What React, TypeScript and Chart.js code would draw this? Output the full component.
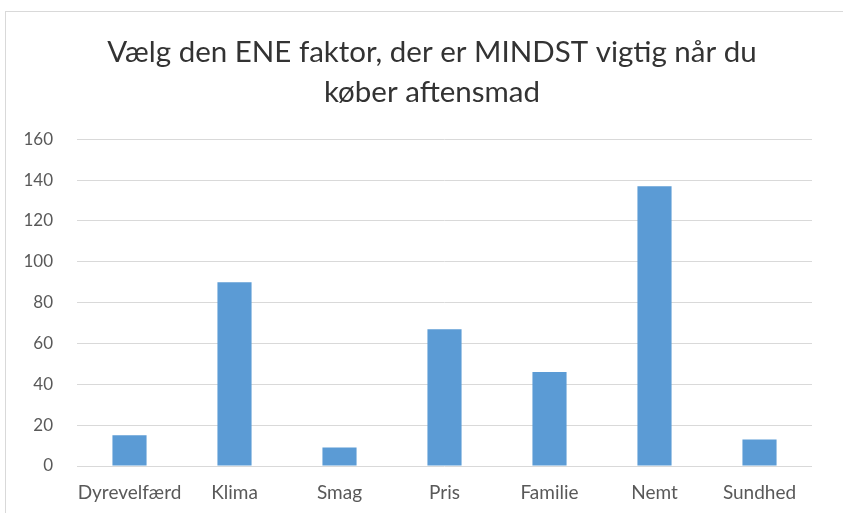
import React, { useEffect, useRef } from "react";
import { Chart, registerables } from "chart.js";

Chart.register(...registerables);

const titleLines = ["Vælg den ENE faktor, der er MINDST vigtig når du", "køber aftensmad"];
const categories = ["Dyrevelfærd", "Klima", "Smag", "Pris", "Familie", "Nemt", "Sundhed"];
const counts = [15, 90, 9, 67, 46, 137, 13];
const yMin = 0;
const yMax = 160;
const yStep = 20;

const shiftTitle = {
  id: "shiftTitle",
  afterLayout(chart: any) {
    if (chart.titleBlock) {
      chart.titleBlock.left = 52;
    }
  },
};

export default function App() {
  const ref = useRef<HTMLCanvasElement | null>(null);

  useEffect(() => {
    if (!ref.current) return;
    const chart = new Chart(ref.current, {
      type: "bar",
      data: {
        labels: categories,
        datasets: [
          {
            data: counts,
            backgroundColor: "#5B9BD5",
            borderWidth: 0,
            categoryPercentage: 1,
            barPercentage: 0.325,
          },
        ],
      },
      plugins: [shiftTitle],
      options: {
        animation: false,
        responsive: false,
        maintainAspectRatio: false,
        layout: { padding: { left: 0, right: 31, top: 0, bottom: 2 } },
        plugins: {
          legend: { display: false },
          tooltip: { enabled: false },
          title: {
            display: true,
            text: titleLines,
            color: "#333333",
            font: { family: "Lato", size: 29.5, weight: "normal", lineHeight: 1.36 },
            padding: { top: 32, bottom: 27 },
          },
        },
        scales: {
          x: {
            afterFit: (scale: any) => {
              scale.height = 45;
            },
            grid: { display: false, drawTicks: false },
            border: { display: false },
            ticks: {
              color: "#595959",
              font: { family: "Lato", size: 19 },
              padding: 15,
              maxRotation: 0,
              autoSkip: false,
            },
          },
          y: {
            min: yMin,
            max: yMax,
            afterFit: (scale: any) => {
              scale.width = 77;
            },
            grid: { color: "#d9d9d9", lineWidth: 1, drawTicks: false },
            border: { display: false },
            ticks: {
              stepSize: yStep,
              color: "#595959",
              font: { family: "Lato", size: 17 },
              padding: 24,
            },
          },
        },
      },
    });
    return () => chart.destroy();
  }, []);

  return (
    <div
      style={{
        position: "fixed",
        left: 0,
        top: 0,
        width: 843,
        height: 513,
        overflow: "hidden",
        background: "#ffffff",
      }}
    >
      <div
        style={{
          position: "absolute",
          left: 5,
          top: 11,
          width: 900,
          height: 600,
          border: "1px solid #d9d9d9",
          boxSizing: "border-box",
        }}
      />
      <canvas
        ref={ref}
        width={843}
        height={513}
        style={{ position: "absolute", left: 0, top: 0, width: 843, height: 513 }}
      />
    </div>
  );
}
